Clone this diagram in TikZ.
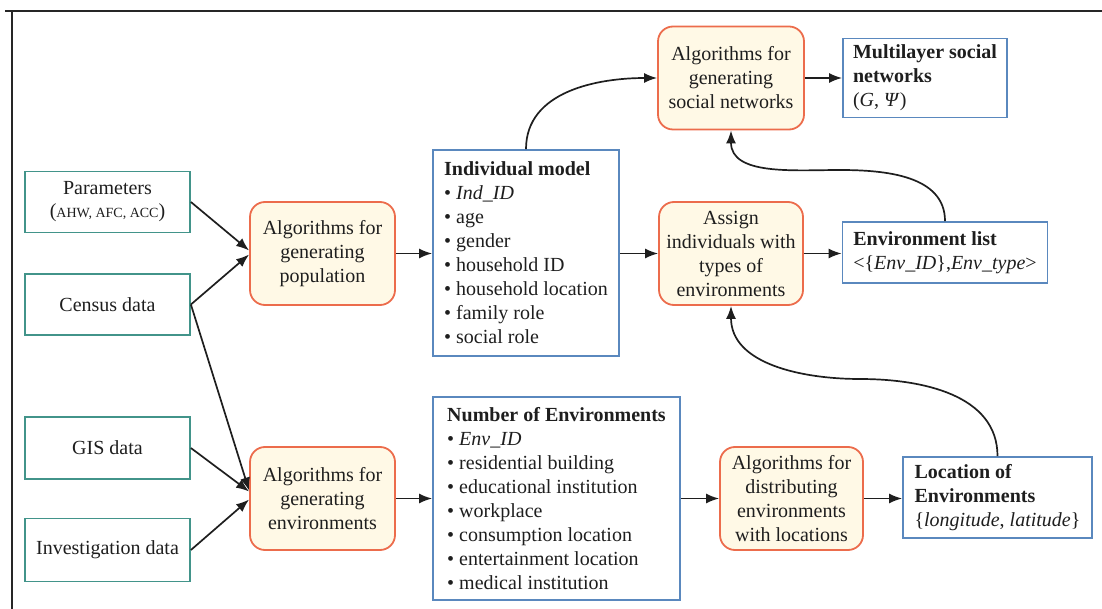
\documentclass[tikz,border=0pt]{standalone}
\usepackage{fontspec}
\setmainfont{Liberation Serif}
\usetikzlibrary{arrows.meta}

\definecolor{ink}{RGB}{30,30,30}
\definecolor{tealline}{RGB}{66,148,138}
\definecolor{blueline}{RGB}{90,136,190}
\definecolor{orangeline}{RGB}{236,108,76}
\definecolor{cream}{RGB}{255,249,230}

\tikzset{
  base/.style={font=\fontsize{20}{24}\selectfont, text=ink, inner sep=0pt, line width=1.8pt},
  databox/.style={base, draw=tealline, align=center},
  algobox/.style={base, draw=orangeline, fill=cream, rounded corners=15pt, align=center},
  infobox/.style={base, draw=blueline, align=left, inner xsep=7pt},
  flow/.style={line width=1.7pt, draw=ink, -{Latex[length=13pt,width=10pt]}},
}

\begin{document}
\begin{tikzpicture}[x=1pt,y=-1pt]
  \useasboundingbox (0,0) rectangle (1102,609);

  % page frame
  \draw[line width=2.4pt, black!85] (5,11) -- (1102,11);
  \draw[line width=2.4pt, black!85] (12,11) -- (12,609);

  % input data
  \node[databox, minimum width=165pt, minimum height=61pt] (param) at (107.5,202)
    {Parameters\\[-1pt]({\fontsize{14}{17}\selectfont AHW, AFC, ACC})};
  \node[databox, minimum width=165pt, minimum height=61pt] (census) at (107.5,304.5) {Census data};
  \node[databox, minimum width=165pt, minimum height=62pt] (gis) at (107.5,448) {GIS data};
  \node[databox, minimum width=165pt, minimum height=63pt] (invest) at (107.5,550) {Investigation data};

  % generation algorithms
  \node[algobox, minimum width=145pt, minimum height=103pt] (algpop) at (322.5,253.5)
    {Algorithms for\\generating\\population};
  \node[algobox, minimum width=145pt, minimum height=103pt] (algenv) at (322.5,498.5)
    {Algorithms for\\generating\\environments};

  % models
  \node[infobox, minimum width=186pt, minimum height=206pt] (indiv) at (526,253)
    {\textbf{Individual model}\\
     • \textit{Ind\_ID}\\
     • age\\
     • gender\\
     • household ID\\
     • household location\\
     • family role\\
     • social role};
  \node[infobox, minimum width=247pt, minimum height=203pt] (numenv) at (556.5,498.5)
    {\textbf{Number of Environments}\\
     • \textit{Env\_ID}\\
     • residential building\\
     • educational institution\\
     • workplace\\
     • consumption location\\
     • entertainment location\\
     • medical institution};

  % second stage
  \node[algobox, minimum width=146pt, minimum height=103pt] (algsoc) at (731,78)
    {Algorithms for\\generating\\social networks};
  \node[algobox, minimum width=144pt, minimum height=103pt] (assign) at (731,253.5)
    {Assign\\individuals with\\types of\\environments};
  \node[algobox, minimum width=143pt, minimum height=103pt] (algdist) at (791.5,498.5)
    {Algorithms for\\distributing\\environments\\with locations};

  % results
  \node[infobox, minimum width=164pt, minimum height=79pt] (multi) at (925,78)
    {\textbf{Multilayer social}\\\textbf{networks}\\(\textit{G}, \textit{Ψ})};
  \node[infobox, minimum width=205pt, minimum height=61pt] (envlist) at (945,252.5)
    {\textbf{Environment list}\\<\{\textit{Env\_ID}\},\textit{Env\_type}>};
  \node[infobox, minimum width=189pt, minimum height=81pt] (loc) at (997.5,497.5)
    {\textbf{Location of}\\\textbf{Environments}\\\{\textit{longitude}, \textit{latitude}\}};

  % bend points of the feedback curves
  \coordinate (bendA) at (840,170);
  \coordinate (bendB) at (860,379);

  % straight flows
  \draw[flow] (param.east) -- ([yshift=3pt]algpop.west);
  \draw[flow] (census.east) -- ([yshift=-1pt]algpop.west);
  \draw[flow] (census.east) -- ([yshift=8pt]algenv.west);
  \draw[flow] (gis.east) -- ([yshift=7pt]algenv.west);
  \draw[flow] (invest.east) -- ([yshift=-1pt]algenv.west);
  \draw[flow] (algpop.east) -- (algpop.east -| indiv.west);
  \draw[flow] (indiv.east |- assign.west) -- (assign.west);
  \draw[flow] (assign.east) -- (assign.east -| envlist.west);
  \draw[flow] (algsoc.east) -- (algsoc.east -| multi.west);
  \draw[flow] (algenv.east) -- (algenv.east -| numenv.west);
  \draw[flow] (numenv.east |- algdist.west) -- (algdist.west);
  \draw[flow] (algdist.east) -- (algdist.east -| loc.west);

  % curved flows
  \draw[flow] (indiv.north) to[out=90,in=180] (algsoc.west);
  \draw[flow] (envlist.north) to[out=90,in=0] (bendA) to[out=180,in=-90] (algsoc.south);
  \draw[flow] (loc.north) to[out=90,in=0] (bendB) to[out=180,in=-90] (assign.south);
\end{tikzpicture}
\end{document}
